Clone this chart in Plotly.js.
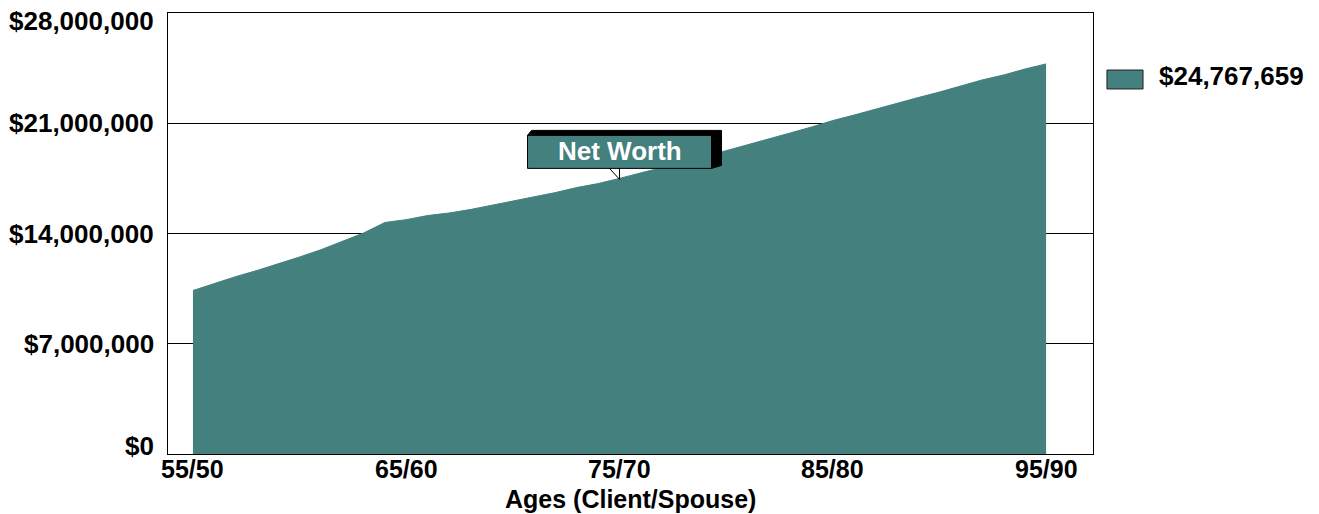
<!DOCTYPE html>
<html>
<head>
<meta charset="utf-8">
<script src="https://cdn.plot.ly/plotly-3.0.1.min.js"></script>
<style>
  html, body { margin: 0; padding: 0; background: #ffffff; }
  #chart { width: 1319px; height: 514px; }
</style>
</head>
<body>
<div id="chart"></div>
<script>
// Ages (Client/Spouse), one point per year
const ages = [
  '55/50','56/51','57/52','58/53','59/54','60/55','61/56','62/57','63/58','64/59',
  '65/60','66/61','67/62','68/63','69/64','70/65','71/66','72/67','73/68','74/69',
  '75/70','76/71','77/72','78/73','79/74','80/75','81/76','82/77','83/78','84/79',
  '85/80','86/81','87/82','88/83','89/84','90/85','91/86','92/87','93/88','94/89',
  '95/90'
];
// Net worth (USD)
const netWorth = [
  10380000, 10820000, 11260000, 11650000, 12060000, 12510000, 12970000, 13490000, 14030000, 14700000,
  14880000, 15140000, 15300000, 15520000, 15780000, 16060000, 16320000, 16600000, 16920000, 17170000,
  17500000, 17840000, 18190000, 18540000, 18890000, 19260000, 19620000, 20000000, 20380000, 20760000,
  21170000, 21520000, 21900000, 22290000, 22630000, 22980000, 23370000, 23750000, 24060000, 24440000,
  24767659
];
const xTickLabels = ['55/50','65/60','75/70','85/80','95/90'];
const yTickVals = [0, 7000000, 14000000, 21000000, 28000000];
const seriesLabel = 'Net Worth';
const xTitle = 'Ages (Client/Spouse)';

const TEAL = '#43807E';
const FONT = 'Liberation Sans, Arial, Helvetica, sans-serif';
const FS = 26;

function money(v) { return '$' + Math.round(v).toLocaleString('en-US'); }

const trace = {
  type: 'scatter',
  mode: 'lines',
  x: ages,
  y: netWorth,
  fill: 'tozeroy',
  fillcolor: TEAL,
  line: { color: TEAL, width: 1 },
  showlegend: false,
  hoverinfo: 'skip'
};

const bold = (size, color) => ({ family: FONT, size: size, weight: 'bold', color: color || '#000' });

// y tick labels as annotations (ends kept inside the frame as in the reference)
const yMax = yTickVals[yTickVals.length - 1];
const annotations = yTickVals.map(v => ({
  xref: 'paper', yref: 'y', x: 0, y: v,
  xanchor: 'right', yanchor: 'middle', xshift: -12,
  yshift: v === 0 ? 8 : (v === yMax ? -8 : 0),
  text: money(v), showarrow: false,
  font: bold(FS)
}));

// x tick labels as annotations
xTickLabels.forEach(t => annotations.push({
  xref: 'x', yref: 'paper', x: t, y: 0,
  xanchor: 'center', yanchor: 'middle', yshift: -15,
  text: t, showarrow: false, font: bold(25)
}));

// x axis title
annotations.push({
  xref: 'paper', yref: 'paper', x: 0.5, y: 0,
  xanchor: 'center', yanchor: 'middle', yshift: -45,
  text: xTitle, showarrow: false, font: bold(25)
});

const calloutIdx = ages.indexOf('75/70');
const ax = calloutIdx, ay = netWorth[calloutIdx];
// callout text
annotations.push({
  xref: 'x', yref: 'y', x: ax, y: ay, xshift: 0, yshift: 27,
  text: seriesLabel, showarrow: false,
  font: bold(FS, '#ffffff')
});
// legend text
annotations.push({
  xref: 'paper', yref: 'paper', x: 1.0692, y: 0.857,
  xanchor: 'left', yanchor: 'middle',
  text: money(netWorth[netWorth.length - 1]), showarrow: false,
  font: bold(FS)
});

const pix = { xref: 'x', yref: 'y', xsizemode: 'pixel', ysizemode: 'pixel', xanchor: ax, yanchor: ay };
const shapes = [
  // 3D extrusion of the callout box
  Object.assign({ type: 'path', path: 'M-92,43 L-88,48 L102,48 L102,13 L92,10 L92,43 Z',
    fillcolor: '#000000', line: { color: '#000000', width: 1 }, layer: 'above' }, pix),
  // front of callout box
  Object.assign({ type: 'rect', x0: -92, x1: 92, y0: 10, y1: 43,
    fillcolor: TEAL, line: { color: '#000000', width: 1 }, layer: 'above' }, pix),
  // pointer
  Object.assign({ type: 'line', x0: -10, y0: 10, x1: 0, y1: -1,
    line: { color: '#000000', width: 1 }, layer: 'above' }, pix),
  Object.assign({ type: 'line', x0: 0, y0: 10, x1: 0, y1: -1,
    line: { color: '#000000', width: 1 }, layer: 'above' }, pix),
  // legend swatch
  { type: 'rect', xref: 'paper', yref: 'paper', x0: 1.0151, x1: 1.0541, y0: 0.8277, y1: 0.8707,
    fillcolor: TEAL, line: { color: '#222222', width: 1 } }
];

const layout = {
  width: 1319, height: 514,
  margin: { l: 168, r: 226, t: 13, b: 60, pad: 0 },
  paper_bgcolor: '#ffffff', plot_bgcolor: '#ffffff',
  showlegend: false,
  font: { family: FONT, size: FS, color: '#000' },
  xaxis: {
    type: 'category',
    categoryorder: 'array', categoryarray: ages,
    range: [-1.17, 42.2],
    showticklabels: false,
    ticks: '', showgrid: false, zeroline: false,
    showline: true, mirror: true, linecolor: '#000', linewidth: 1
  },
  yaxis: {
    range: [0, yMax],
    tickmode: 'array', tickvals: yTickVals,
    showticklabels: false, ticks: '',
    showgrid: true, gridcolor: '#000', gridwidth: 1,
    zeroline: false,
    showline: true, mirror: true, linecolor: '#000', linewidth: 1
  },
  shapes: shapes,
  annotations: annotations
};

Plotly.newPlot('chart', [trace], layout, { displayModeBar: false, staticPlot: true });
</script>
</body>
</html>
